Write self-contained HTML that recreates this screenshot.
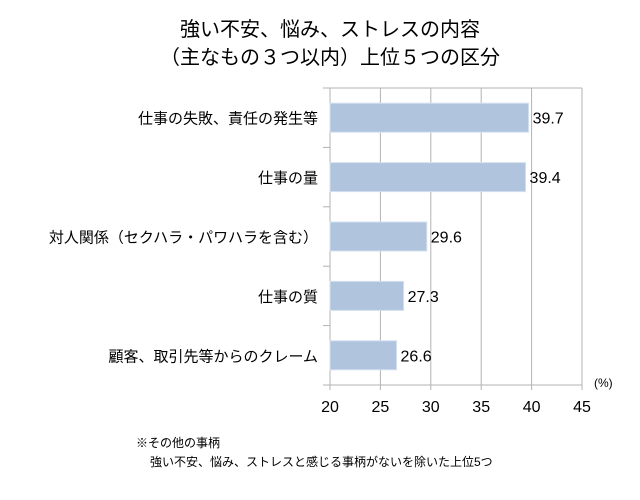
<!DOCTYPE html>
<html><head><meta charset="utf-8">
<style>
html,body{margin:0;padding:0;background:#fff;width:640px;height:500px;overflow:hidden}
svg text{font-family:"Liberation Sans","Noto Sans CJK JP",sans-serif;fill:#000}
</style></head>
<body>
<svg id="chart" width="640" height="500" viewBox="0 0 640 500">
<text x="330" y="36" font-size="20" text-anchor="middle">強い不安、悩み、ストレスの内容</text>
<text x="330" y="64" font-size="20" text-anchor="middle">（主なもの３つ以内）上位５つの区分</text>
<g id="grid"></g>
<g id="bars"></g>
<g id="labels"></g>
<text x="594" y="387" font-size="12">(%)</text>
<text x="136" y="447" font-size="12">※その他の事柄</text>
<text x="150" y="466" font-size="12">強い不安、悩み、ストレスと感じる事柄がないを除いた上位5つ</text>
</svg>
<script>
const categories=["仕事の失敗、責任の発生等","仕事の量","対人関係（セクハラ・パワハラを含む）","仕事の質","顧客、取引先等からのクレーム"];
const values=[39.7,39.4,29.6,27.3,26.6];
const ticks=[20,25,30,35,40,45];
const NS="http://www.w3.org/2000/svg";
const x0=330,x1=582,yTop=88,yBottom=385,xmin=20,xmax=45;
const xs=v=>x0+(v-xmin)/(xmax-xmin)*(x1-x0);
const band=(yBottom-yTop)/categories.length;
function mk(tag,attrs,parent){const e=document.createElementNS(NS,tag);for(const k in attrs)e.setAttribute(k,attrs[k]);parent.appendChild(e);return e;}
const grid=document.getElementById('grid'),bars=document.getElementById('bars'),labels=document.getElementById('labels');
mk('line',{x1:323,y1:yTop,x2:x1,y2:yTop,stroke:'#b3b3b3','stroke-width':1},grid);
ticks.forEach(t=>{
  const x=xs(t);
  const l=mk('line',{x1:x,y1:yTop,x2:x,y2:yBottom+5,stroke:'#b3b3b3','stroke-width':1},grid);
  
  
  const tx=mk('text',{x:x,y:412,'font-size':16,'text-anchor':'middle'},grid);
  tx.textContent=t;
  
  
});
mk('line',{x1:323,y1:yBottom,x2:x1,y2:yBottom,stroke:'#b3b3b3','stroke-width':1},grid);
for(let i=0;i<=categories.length;i++){
  const y=yTop+i*band;
  mk('line',{x1:323,y1:y,x2:x0,y2:y,stroke:'#b3b3b3','stroke-width':1},grid);
}
categories.forEach((c,i)=>{
  const cy=yTop+band*(i+0.5);
  const r=mk('rect',{x:x0,y:cy-14.5,width:xs(values[i])-x0,height:29,fill:'#b0c4de',stroke:'#d4e0ef','stroke-width':1},bars);
  
  
  const v=mk('text',{x:xs(values[i])+4,y:cy+6,'font-size':16},labels);
  v.textContent=values[i].toFixed(1);
  
  
  const cl=mk('text',{x:318,y:cy+6,'font-size':15,'text-anchor':'end'},labels);
  cl.textContent=c;
  
  
});
</script>
</body></html>
